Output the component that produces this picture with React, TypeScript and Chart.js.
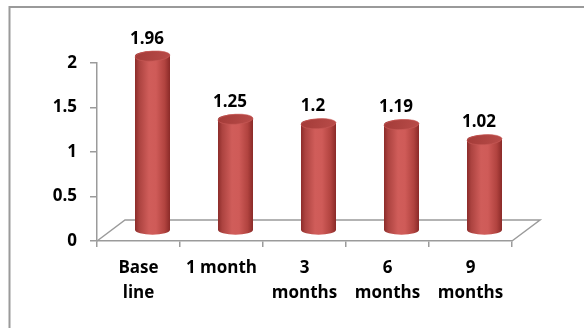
import React, { useEffect, useRef } from "react";
import { Chart, registerables } from "chart.js";

Chart.register(...registerables);

// Category labels (multi-line) and mean values per visit
const categories: string[][] = [["Base", "line"], ["1 month"], ["3", "months"], ["6", "months"], ["9", "months"]];
const values: number[] = [1.96, 1.25, 1.2, 1.19, 1.02];
const yMin = 0;
const yMax = 2;
const yStep = 0.5;

const FONT_FAMILY = '"Open Sans", "Liberation Sans", sans-serif';
const AXIS_GRAY = "#9b9b9b";
// Receding depth of the 3D floor (px)
const DEPTH_X = 28;
const DEPTH_Y = -21;

// Outer frame around the chart
const framePlugin = {
  id: "frame",
  beforeDraw(chart: any) {
    const { ctx } = chart;
    ctx.save();
    ctx.strokeStyle = "#9a9a9a";
    ctx.lineWidth = 2;
    ctx.strokeRect(9.5, 7, 700, 400);
    ctx.restore();
  },
};

// Floor parallelogram behind the cylinders
const floorPlugin = {
  id: "floor3d",
  beforeDatasetsDraw(chart: any) {
    const { ctx, chartArea } = chart;
    const { left, right, bottom } = chartArea;
    ctx.save();
    ctx.strokeStyle = AXIS_GRAY;
    ctx.lineWidth = 1.5;
    ctx.beginPath();
    ctx.moveTo(left, bottom);
    ctx.lineTo(left + DEPTH_X, bottom + DEPTH_Y);
    ctx.lineTo(right + DEPTH_X, bottom + DEPTH_Y);
    ctx.lineTo(right, bottom);
    ctx.stroke();
    ctx.restore();
  },
};

// Draws each bar element as a shaded cylinder standing at mid depth, with its value above
const cylinderPlugin = {
  id: "cylinders",
  afterDatasetsDraw(chart: any) {
    const { ctx } = chart;
    const meta = chart.getDatasetMeta(0);
    const data = chart.data.datasets[0].data as number[];
    meta.data.forEach((el: any, i: number) => {
      const { x, y, base, width } = el.getProps(["x", "y", "base", "width"], true);
      const cx = x + DEPTH_X / 2;
      const top = y + DEPTH_Y / 2;
      const bot = base + DEPTH_Y / 2;
      const rx = width / 2;
      const ry = 5;
      ctx.save();

      const g = ctx.createLinearGradient(cx - rx, 0, cx + rx, 0);
      g.addColorStop(0, "#8c2c2a");
      g.addColorStop(0.12, "#ac4340");
      g.addColorStop(0.4, "#d05d5a");
      g.addColorStop(0.6, "#cf5b58");
      g.addColorStop(0.85, "#b1433f");
      g.addColorStop(1, "#8a2a28");

      ctx.beginPath();
      ctx.moveTo(cx - rx, top);
      ctx.lineTo(cx - rx, bot);
      ctx.ellipse(cx, bot, rx, ry, 0, Math.PI, 0, true);
      ctx.lineTo(cx + rx, top);
      ctx.ellipse(cx, top, rx, ry, 0, 0, Math.PI, true);
      ctx.closePath();
      ctx.fillStyle = g;
      ctx.fill();

      // top cap
      const gc = ctx.createLinearGradient(cx - rx, top - ry, cx + rx, top + ry);
      gc.addColorStop(0, "#a33b38");
      gc.addColorStop(1, "#b94c49");
      ctx.beginPath();
      ctx.ellipse(cx, top, rx, ry, -0.06, 0, Math.PI * 2);
      ctx.fillStyle = gc;
      ctx.fill();
      ctx.strokeStyle = "rgba(200,90,87,0.8)";
      ctx.lineWidth = 0.8;
      ctx.stroke();

      // value label
      ctx.fillStyle = "#000";
      ctx.font = `bold 17px ${FONT_FAMILY}`;
      ctx.textAlign = "center";
      ctx.textBaseline = "alphabetic";
      ctx.fillText(String(data[i]), x + 8.5, top - 12.5);
      ctx.restore();
    });
  },
};

export default function App() {
  const canvasRef = useRef<HTMLCanvasElement | null>(null);

  useEffect(() => {
    const canvas = canvasRef.current;
    if (!canvas) return;
    const tickFont = { family: FONT_FAMILY, size: 17, weight: "bold" as const, lineHeight: 25 / 17 };
    const chart = new Chart(canvas, {
      type: "bar",
      data: {
        labels: categories,
        datasets: [
          {
            data: values,
            backgroundColor: "rgba(0,0,0,0)",
            borderWidth: 0,
            barPercentage: 35 / 83,
            categoryPercentage: 1,
          },
        ],
      },
      options: {
        responsive: false,
        animation: false,
        devicePixelRatio: 1,
        layout: { padding: { left: 10, right: 72, top: 63, bottom: 0 } },
        plugins: { legend: { display: false }, tooltip: { enabled: false } },
        scales: {
          x: {
            type: "category",
            offset: true,
            grid: {
              offset: true,
              drawOnChartArea: false,
              drawTicks: true,
              tickLength: 6,
              color: AXIS_GRAY,
              lineWidth: 1.5,
            },
            border: { display: true, color: AXIS_GRAY, width: 1.5 },
            ticks: {
              color: "#000",
              font: tickFont,
              padding: 9,
              maxRotation: 0,
              autoSkip: false,
            },
            afterFit(scale: any) {
              scale.height = 87;
            },
          },
          y: {
            min: yMin,
            max: yMax,
            grid: {
              drawOnChartArea: false,
              drawTicks: true,
              tickLength: 7,
              color: AXIS_GRAY,
              lineWidth: 1.5,
            },
            border: { display: true, color: AXIS_GRAY, width: 1.5 },
            ticks: {
              stepSize: yStep,
              color: "#000",
              font: tickFont,
              padding: 13,
              callback: (v: any) => String(Number(v)),
            },
            afterFit(scale: any) {
              scale.width = 87;
            },
          },
        },
      },
      plugins: [framePlugin, floorPlugin, cylinderPlugin],
    });
    return () => chart.destroy();
  }, []);

  return (
    <div style={{ position: "fixed", left: 0, top: 0, width: 584, height: 328, background: "#fff" }}>
      <canvas ref={canvasRef} width={584} height={328} />
    </div>
  );
}
